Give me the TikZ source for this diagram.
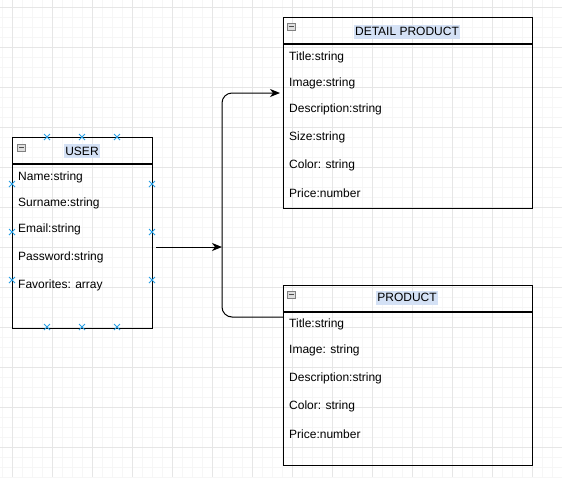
\documentclass[tikz,border=0pt]{standalone}
\usepackage{fontspec}
\setmainfont{Liberation Sans}
\usetikzlibrary{arrows.meta,shapes.misc}
\definecolor{gridmin}{RGB}{246,246,246}
\definecolor{gridmaj}{RGB}{230,230,230}
\definecolor{hilite}{RGB}{212,225,245}
\definecolor{portblue}{RGB}{41,160,230}

\begin{document}
\begin{tikzpicture}[x=1pt, y=-1pt, font=\fontsize{12}{14}\selectfont,
                    hdr/.style={draw, line width=1pt, minimum height=26pt, inner sep=0pt, anchor=north west},
                    body/.style={draw, line width=1pt, inner sep=0pt, anchor=north},
                    title/.style={fill=hilite, inner xsep=1pt, inner ysep=0pt, minimum height=14pt},
                    attr/.style={anchor=west, inner sep=0pt},
                    toggle/.style={draw=gray, fill=gray!25, line width=0.6pt, inner sep=0pt,
                                   minimum width=8pt, minimum height=7pt,
                                   path picture={\draw[black!70, line width=0.8pt]
                                     ([xshift=1.5pt]path picture bounding box.west) --
                                     ([xshift=-1.5pt]path picture bounding box.east);}},
                    port/.style={cross out, draw=portblue, line width=1pt, minimum size=5pt, inner sep=0pt},
                    link/.style={line width=1pt},
                    tip/.style={-{Stealth[length=10pt,width=8pt,inset=3pt]}}]
  \useasboundingbox (0,0) rectangle (562,477);
  \foreach \x in {2,12,...,562} \draw[gridmin, line width=0.8pt] (\x,0) -- (\x,477);
  \foreach \y in {7,17,...,477} \draw[gridmin, line width=0.8pt] (0,\y) -- (562,\y);
  \foreach \x in {12,52,...,562} \draw[gridmaj, line width=0.8pt] (\x,0) -- (\x,477);
  \foreach \y in {7,47,...,477} \draw[gridmaj, line width=0.8pt] (0,\y) -- (562,\y);

  \node[hdr, minimum width=140pt] (userhdr) at (12,137) {};
  \node[body, minimum width=140pt, minimum height=164pt] (user) at (userhdr.south) {};
  \node[title] (usertitle) at (82,151) {USER};
  \node[toggle] (usertog) at (21.5,147.5) {};
  \foreach \y/\t [count=\i] in {177/Name:string, 203/Surname:string, 229/Email:string,
                                257/Password:string, 285/Favorites: array}
    \node[attr] (ua\i) at (18,\y) {\t};

  \node[hdr, minimum width=249pt] (dethdr) at (283,17) {};
  \node[body, minimum width=249pt, minimum height=164pt] (detail) at (dethdr.south) {};
  \node[title] (dettitle) at (407,31.5) {DETAIL PRODUCT};
  \node[toggle] (dettog) at (291,26.5) {};
  \foreach \y/\t [count=\i] in {57/Title:string, 83/Image:string, 109/Description:string,
                                137/Size:string, 165/Color: string, 193/Price:number}
    \node[attr] (da\i) at (289,\y) {\t};

  \node[hdr, minimum width=249pt] (prodhdr) at (283,285) {};
  \node[body, minimum width=249pt, minimum height=153pt] (prod) at (prodhdr.south) {};
  \node[title] (prodtitle) at (407,297.5) {PRODUCT};
  \node[toggle] (prodtog) at (291,294.5) {};
  \foreach \y/\t [count=\i] in {324/Title:string, 350/Image: string, 378/Description:string,
                                406/Color: string, 434/Price:number}
    \node[attr] (pa\i) at (289,\y) {\t};

  \foreach \x [count=\i] in {47,82,117} {
    \node[port] (pt\i) at (\x,137) {};
    \node[port] (pb\i) at (\x,327) {};
  }
  \foreach \y [count=\i] in {184,232,280} {
    \node[port] (pl\i) at (12,\y) {};
    \node[port] (pr\i) at (152,\y) {};
  }

  \coordinate (jn) at (222,247);
  \coordinate (din) at (280,93);
  \coordinate (pin) at ([yshift=-5pt]prodhdr.south west);
  \draw[link, tip] ([xshift=3pt]user.east |- jn) -- (jn);
  \draw[link, tip, rounded corners=10pt] (pin) -- (pin -| jn) -- (jn |- din) -- (din);
\end{tikzpicture}
\end{document}
